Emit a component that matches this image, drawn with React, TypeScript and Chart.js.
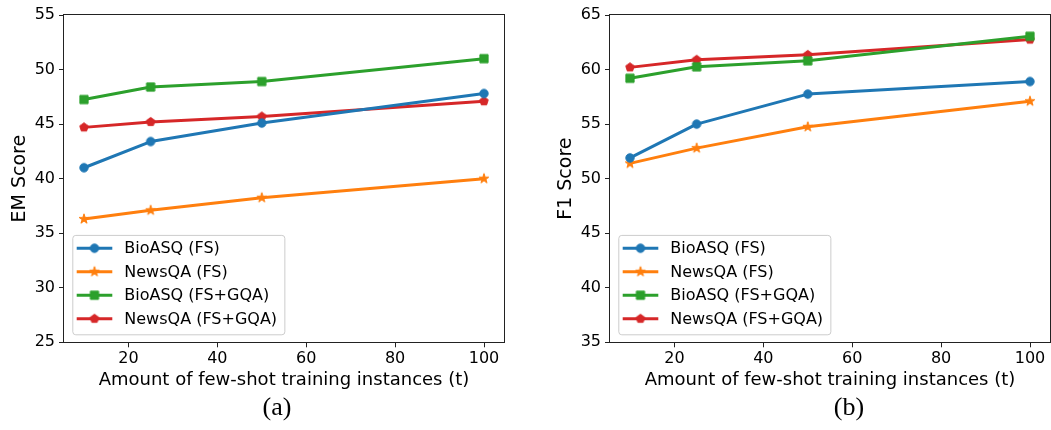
import React, { useEffect, useRef } from 'react';
import { Chart, registerables } from 'chart.js';

Chart.register(...registerables);

// ---------- data ----------
const xValues = [10, 25, 50, 100];
const xTicks = [20, 40, 60, 80, 100];
const emTicks = [25, 30, 35, 40, 45, 50, 55];
const f1Ticks = [35, 40, 45, 50, 55, 60, 65];

const seriesLabels = ['BioASQ (FS)', 'NewsQA (FS)', 'BioASQ (FS+GQA)', 'NewsQA (FS+GQA)'];
const seriesColors = ['#1f77b4', '#ff7f0e', '#2ca02c', '#d62728'];
const seriesMarkers = ['circle', 'star', 'square', 'pentagon'];

const emBioFS = [41.0, 43.4, 45.1, 47.8];
const emNewsFS = [36.3, 37.1, 38.25, 40.0];
const emBioGQA = [47.25, 48.4, 48.9, 51.0];
const emNewsGQA = [44.7, 45.2, 45.7, 47.1];

const f1BioFS = [51.9, 55.0, 57.75, 58.9];
const f1NewsFS = [51.4, 52.8, 54.75, 57.1];
const f1BioGQA = [59.2, 60.25, 60.8, 63.05];
const f1NewsGQA = [60.2, 60.9, 61.35, 62.75];

const xTitle = 'Amount of few-shot training instances (t)';

const FONT = "'DejaVu Sans', sans-serif";

// ---------- markers ----------
function drawShape(ctx: CanvasRenderingContext2D, kind: string, x: number, y: number, color: string) {
  ctx.save();
  ctx.fillStyle = color;
  ctx.strokeStyle = color;
  ctx.lineWidth = 1;
  ctx.beginPath();
  if (kind === 'circle') {
    ctx.arc(x, y, 4.2, 0, Math.PI * 2);
  } else if (kind === 'square') {
    ctx.rect(x - 4.1, y - 4.1, 8.2, 8.2);
  } else if (kind === 'star') {
    const ro = 5.2, ri = 2.0;
    for (let i = 0; i < 10; i++) {
      const r = i % 2 === 0 ? ro : ri;
      const ang = -Math.PI / 2 + (i * Math.PI) / 5;
      const px = x + r * Math.cos(ang), py = y + r * Math.sin(ang);
      if (i === 0) ctx.moveTo(px, py); else ctx.lineTo(px, py);
    }
    ctx.closePath();
  } else if (kind === 'pentagon') {
    const r = 4.5;
    for (let i = 0; i < 5; i++) {
      const ang = -Math.PI / 2 + (i * 2 * Math.PI) / 5;
      const px = x + r * Math.cos(ang), py = y + r * Math.sin(ang);
      if (i === 0) ctx.moveTo(px, py); else ctx.lineTo(px, py);
    }
    ctx.closePath();
  }
  ctx.fill();
  ctx.stroke();
  ctx.restore();
}

function markerCanvas(kind: string, color: string) {
  const c = document.createElement('canvas');
  c.width = 16;
  c.height = 16;
  const ctx = c.getContext('2d')!;
  drawShape(ctx, kind, 8, 8, color);
  return c;
}

// ---------- frame + legend plugin ----------
const frameLegendPlugin = {
  id: 'frameLegend',
  afterDraw(chart: any) {
    const { ctx, chartArea: a } = chart;
    ctx.save();
    // frame
    ctx.strokeStyle = '#222';
    ctx.lineWidth = 1;
    const l = Math.round(a.left) - 0.5;
    const t = Math.round(a.top) - 0.5;
    const r = Math.round(a.right) + 0.5;
    const b = Math.round(a.bottom) + 0.5;
    ctx.strokeRect(l, t, r - l, b - t);

    // legend
    const ds = chart.data.datasets;
    ctx.font = `16px ${FONT}`;
    const maxW = Math.max(...ds.map((d: any) => ctx.measureText(d.label).width));
    const rowH = 23.5;
    const fx = a.left + 8.3;
    const fh = rowH * 3 + 13.3 + 15.6;
    const fb = a.bottom - 8;
    const ft = fb - fh;
    const lx0 = fx + 4.4;
    const lx1 = lx0 + 35.6;
    const tx = lx1 + 12;
    const fw = tx + maxW + 7.3 - fx;
    ctx.beginPath();
    ctx.roundRect(fx + 0.5, ft + 0.5, fw, fh, 3);
    ctx.fillStyle = 'rgba(255,255,255,0.8)';
    ctx.fill();
    ctx.strokeStyle = '#cccccc';
    ctx.lineWidth = 1;
    ctx.stroke();
    ds.forEach((d: any, i: number) => {
      const cy = ft + 13.3 + i * rowH;
      ctx.beginPath();
      ctx.strokeStyle = d.borderColor;
      ctx.lineWidth = 3;
      ctx.moveTo(lx0, cy);
      ctx.lineTo(lx1, cy);
      ctx.stroke();
      const img = d.pointStyle as HTMLCanvasElement;
      ctx.drawImage(img, (lx0 + lx1) / 2 - img.width / 2, cy - img.height / 2);
      ctx.fillStyle = '#000';
      ctx.textAlign = 'left';
      ctx.textBaseline = 'middle';
      ctx.fillText(d.label, tx, cy + 1);
    });
    ctx.restore();
  },
};

// ---------- chart component ----------
type PanelProps = {
  series: number[][];
  yMin: number;
  yMax: number;
  yTicks: number[];
  yTitle: string;
  left: number;
};

const CW = 512;
const CH = 400;
const AREA_RIGHT = 504;

function Panel({ series, yMin, yMax, yTicks, yTitle, left }: PanelProps) {
  const ref = useRef<HTMLCanvasElement>(null);
  useEffect(() => {
    if (!ref.current) return;
    const datasets = series.map((vals, i) => ({
      label: seriesLabels[i],
      data: vals.map((v, j) => ({ x: xValues[j], y: v })),
      borderColor: seriesColors[i],
      backgroundColor: seriesColors[i],
      borderWidth: 3,
      borderJoinStyle: 'round' as const,
      pointStyle: markerCanvas(seriesMarkers[i], seriesColors[i]),
      pointRadius: 5,
      tension: 0,
    }));
    const chart = new Chart(ref.current, {
      type: 'line',
      data: { datasets },
      plugins: [frameLegendPlugin],
      options: {
        animation: false,
        responsive: false,
        devicePixelRatio: 1,
        layout: { padding: { left: 0, top: 15, right: CW - AREA_RIGHT, bottom: 0 } },
        plugins: { legend: { display: false }, tooltip: { enabled: false } },
        scales: {
          x: {
            type: 'linear',
            min: 5.5,
            max: 104.5,
            afterBuildTicks: (s: any) => {
              s.ticks = xTicks.map((v) => ({ value: v }));
            },
            afterFit: (s: any) => {
              s.height = CH - 342.3;
              s.paddingLeft = 0;
              s.paddingRight = 0;
            },
            border: { display: false },
            grid: {
              display: true,
              drawOnChartArea: false,
              drawTicks: true,
              tickLength: 5,
              tickColor: '#222',
              tickWidth: 1,
            },
            ticks: {
              color: '#000',
              font: { family: FONT, size: 16 },
              padding: 2,
              maxRotation: 0,
              autoSkip: false,
            },
            title: {
              display: true,
              text: xTitle,
              color: '#000',
              font: { family: FONT, size: 18 },
              padding: { top: 9, bottom: 9 },
            },
          },
          y: {
            type: 'linear',
            min: yMin,
            max: yMax,
            afterBuildTicks: (s: any) => {
              s.ticks = yTicks.map((v) => ({ value: v }));
            },
            afterFit: (s: any) => {
              s.width = 64;
            },
            border: { display: false },
            grid: {
              display: true,
              drawOnChartArea: false,
              drawTicks: true,
              tickLength: 5,
              tickColor: '#222',
              tickWidth: 1,
            },
            ticks: {
              color: '#000',
              font: { family: FONT, size: 16 },
              padding: 4,
              autoSkip: false,
            },
            title: {
              display: true,
              text: yTitle,
              color: '#000',
              font: { family: FONT, size: 19 },
              padding: { top: 9, bottom: 9 },
            },
          },
        },
      },
    } as any);
    return () => chart.destroy();
  }, []);
  return (
    <canvas
      ref={ref}
      width={CW}
      height={CH}
      style={{ position: 'absolute', left, top: 0, width: CW, height: CH }}
    />
  );
}

export default function App() {
  const caption: React.CSSProperties = {
    position: 'absolute',
    top: 392,
    width: 60,
    textAlign: 'center',
    fontFamily: "'Liberation Serif', serif",
    fontSize: 26,
    lineHeight: '30px',
    color: '#000',
  };
  return (
    <div style={{ position: 'absolute', left: 0, top: 0, width: 1051, height: 430, background: '#fff', overflow: 'hidden' }}>
      <Panel series={[emBioFS, emNewsFS, emBioGQA, emNewsGQA]} yMin={25} yMax={55} yTicks={emTicks} yTitle="EM Score" left={0} />
      <Panel series={[f1BioFS, f1NewsFS, f1BioGQA, f1NewsGQA]} yMin={35} yMax={65} yTicks={f1Ticks} yTitle="F1 Score" left={546} />
      <div style={{ ...caption, left: 277 - 30 }}>(a)</div>
      <div style={{ ...caption, left: 849 - 30 }}>(b)</div>
    </div>
  );
}
